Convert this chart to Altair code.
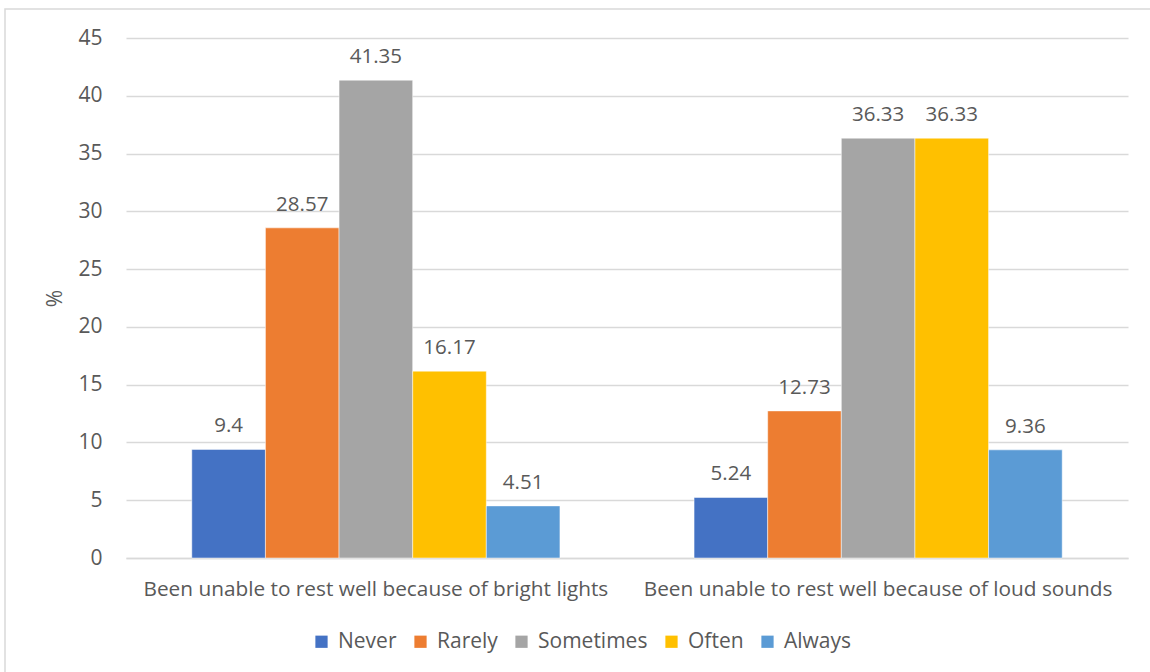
import altair as alt
import pandas as pd

# Survey responses (%) for two rest-disturbance items
categories = [
    "Been unable to rest well because of bright lights",
    "Been unable to rest well because of loud sounds",
]
responses = ["Never", "Rarely", "Sometimes", "Often", "Always"]
colors = ["#4472C4", "#ED7D31", "#A5A5A5", "#FFC000", "#5B9BD5"]
bright_lights = [9.4, 28.57, 41.35, 16.17, 4.51]
loud_sounds = [5.24, 12.73, 36.33, 36.33, 9.36]

rows = []
for cat, vals in zip(categories, [bright_lights, loud_sounds]):
    for resp, v in zip(responses, vals):
        rows.append({"item": cat, "response": resp, "pct": v, "label": f"{v:g}"})
df = pd.DataFrame(rows)

FONT = "Open Sans"
TEXT = "#595959"
GRID = "#D9D9D9"

x = alt.X(
    "item:N",
    sort=categories,
    title=None,
    scale=alt.Scale(paddingInner=0.267, paddingOuter=0.131),
    axis=alt.Axis(
        labelAngle=0,
        labelFontSize=20.8,
        labelFont=FONT,
        labelColor=TEXT,
        labelPadding=21,
        ticks=False,
        domain=True,
        domainColor=GRID,
        domainWidth=1.5,
        labelLimit=600,
    ),
)
xoff = alt.XOffset("response:N", sort=responses, scale=alt.Scale(paddingInner=0, paddingOuter=0))
y = alt.Y(
    "pct:Q",
    title="%",
    scale=alt.Scale(domain=[0, 45], nice=False),
    axis=alt.Axis(
        values=list(range(0, 50, 5)),
        labelFontSize=21,
        labelFont=FONT,
        labelColor=TEXT,
        labelPadding=24,
        ticks=False,
        domain=False,
        gridColor=GRID,
        gridWidth=1.3,
        titleFont=FONT,
        titleFontSize=21,
        titleFontWeight="normal",
        titleColor=TEXT,
        titlePadding=12,
    ),
)

bars = alt.Chart(df).mark_bar(stroke="white", strokeWidth=0.5).encode(
    x=x,
    xOffset=xoff,
    y=y,
    color=alt.Color(
        "response:N",
        sort=responses,
        scale=alt.Scale(domain=responses, range=colors),
        legend=alt.Legend(
            title=None,
            orient="none",
            legendX=185,
            legendY=593,
            direction="horizontal",
            symbolType="square",
            symbolSize=150,
            symbolStrokeWidth=0,
            labelFont=FONT,
            labelFontSize=21,
            labelColor=TEXT,
            labelOffset=6,
            columnPadding=13,
        ),
    ),
)

labels = alt.Chart(df).mark_text(
    baseline="alphabetic", dy=-17, font=FONT, fontSize=20.5, color=TEXT
).encode(
    x=alt.X("item:N", sort=categories),
    xOffset=alt.XOffset("response:N", sort=responses),
    y="pct:Q",
    text="label:N",
)

# Outer chart frame
frame = alt.Chart(pd.DataFrame({"k": [0]})).mark_rect(
    fill=None, stroke="#D9D9D9", strokeWidth=1.5
).encode(
    x=alt.value(-121), x2=alt.value(1040), y=alt.value(-29), y2=alt.value(130 + 560)
)

chart = (
    alt.layer(frame, bars, labels)
    .properties(
        width=1002,
        height=520,
        autosize=alt.AutoSizeParams(type="none"),
        padding={"left": 126, "top": 38, "right": 22, "bottom": 114},
        background="white",
    )
    .configure_view(stroke=None)
)

chart.save("out.html", embed_options={"renderer": "svg", "actions": False})
